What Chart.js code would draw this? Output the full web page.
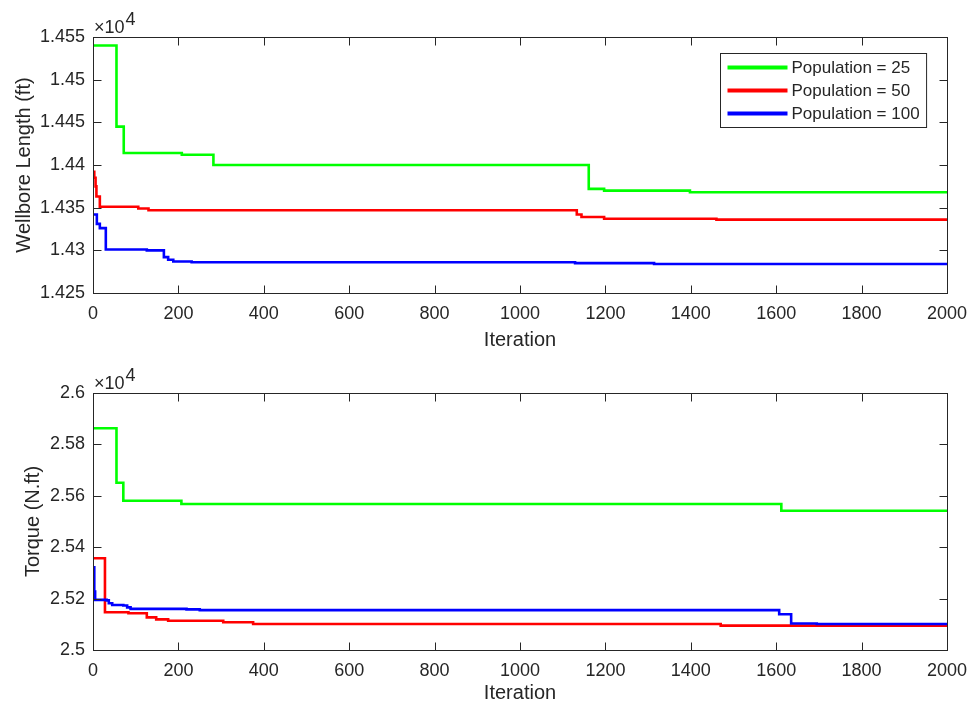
<!DOCTYPE html>
<html><head><meta charset="utf-8">
<script src="https://cdn.jsdelivr.net/npm/chart.js@4.4.1/dist/chart.umd.min.js"></script>
<style>
html,body{margin:0;padding:0;background:#fff;}
#wrap{position:relative;width:969px;height:705px;background:#fff;}
.c{position:absolute;left:0;width:969px;}
canvas{display:block;}
</style></head><body>
<div id="wrap">
<div class="c" style="top:0;height:352px"><canvas id="topChart" width="969" height="352"></canvas></div>
<div class="c" style="top:352px;height:353px"><canvas id="botChart" width="969" height="353"></canvas></div>
</div>
<script>
// ---------- data ----------
const seriesLabels = ['Population = 25', 'Population = 50', 'Population = 100'];
const seriesColors = ['#00ff00', '#ff0000', '#0000ff'];

// Wellbore length (ft) – best value vs iteration (change points)
const len25Iter  = [0, 55, 72, 208, 282, 1161, 1197, 1398, 2000];
const len25      = [14540, 14445, 14414, 14412, 14400, 14372, 14370, 14368, 14368];
const len50Iter  = [0, 3, 6, 8, 16, 106, 130, 1133, 1144, 1197, 1460, 2000];
const len50      = [14392, 14385, 14375, 14363, 14351, 14349, 14347, 14342, 14339, 14337, 14336, 14336];
const len100Iter = [0, 9, 16, 30, 126, 166, 176, 188, 231, 1129, 1314, 2000];
const len100     = [14342, 14331, 14326, 14301, 14300, 14292, 14289, 14287, 14286, 14285, 14284, 14284];

// Torque (N.ft) – best value vs iteration (change points)
const tq25Iter  = [0, 55, 71, 207, 1612, 2000];
const tq25      = [25863, 25651, 25581, 25568, 25542, 25542];
const tq50Iter  = [0, 28, 83, 126, 148, 176, 305, 375, 1470, 2000];
const tq50      = [25357, 25147, 25143, 25127, 25119, 25114, 25108, 25101, 25095, 25095];
const tq100Iter = [0, 3, 5, 32, 37, 45, 71, 80, 88, 219, 250, 1607, 1635, 1695, 2000];
const tq100     = [25322, 25227, 25195, 25193, 25182, 25175, 25173, 25166, 25160, 25158, 25155, 25139, 25103, 25101, 25101];

// axis tick settings
const xTicks = [0, 200, 400, 600, 800, 1000, 1200, 1400, 1600, 1800, 2000];
const lenTicks = [14250, 14300, 14350, 14400, 14450, 14500, 14550];
const tqTicks  = [25000, 25200, 25400, 25600, 25800, 26000];
const exponentText = '\u00d710';
const exponentPower = '4';

// ---------- helpers ----------
const FONT = "'Liberation Sans', Arial, Helvetica, sans-serif";
const TXT = '#262626';
Chart.defaults.font.family = FONT;
Chart.defaults.color = TXT;

function pairs(xs, ys) { return xs.map((x, i) => ({x: x, y: ys[i]})); }

function makeDatasets(sets) {
  return sets.map((s, i) => ({
    label: seriesLabels[i],
    data: pairs(s[0], s[1]),
    borderColor: seriesColors[i],
    backgroundColor: seriesColors[i],
    borderWidth: 2.6,
    pointRadius: 0,
    stepped: 'before',
    borderJoinStyle: 'miter',
    fill: false,
    order: 2 - i
  }));
}

const matlabAxes = {
  id: 'matlabAxes',
  afterDatasetsDraw(chart) {
    const {ctx, chartArea: a, scales: {x, y}} = chart;
    ctx.save();
    ctx.strokeStyle = TXT;
    ctx.lineWidth = 1;
    const L = Math.round(a.left) + 0.5, R = Math.round(a.right) + 0.5;
    const T = Math.round(a.top) + 0.5, B = Math.round(a.bottom) + 0.5;
    ctx.beginPath();
    x.ticks.forEach(t => {
      const px = Math.round(x.getPixelForValue(t.value)) + 0.5;
      ctx.moveTo(px, B); ctx.lineTo(px, B - 8);
      ctx.moveTo(px, T); ctx.lineTo(px, T + 8);
    });
    y.ticks.forEach(t => {
      const py = Math.round(y.getPixelForValue(t.value)) + 0.5;
      ctx.moveTo(L, py); ctx.lineTo(L + 8, py);
      ctx.moveTo(R, py); ctx.lineTo(R - 8, py);
    });
    ctx.stroke();
    ctx.strokeRect(L, T, R - L, B - T);
    // exponent label
    ctx.fillStyle = TXT;
    ctx.font = '18px ' + FONT;
    ctx.textBaseline = 'alphabetic';
    ctx.textAlign = 'left';
    const bx = a.left + 1, by = a.top - 4;
    ctx.fillText(exponentText, bx, by);
    const w = ctx.measureText(exponentText).width;
    ctx.fillText(exponentPower, bx + w + 1, by - 8);
    ctx.restore();
  }
};

const boxLegend = {
  id: 'boxLegend',
  afterDraw(chart) {
    const {ctx, chartArea: a} = chart;
    ctx.save();
    ctx.font = '17px ' + FONT;
    const ds = chart.data.datasets;
    let tw = 0;
    ds.forEach(d => { tw = Math.max(tw, ctx.measureText(d.label).width); });
    const padX = 7, lineLen = 60, gap = 4, rowH = 23, padY = 14;
    const w = padX + lineLen + gap + tw + padX;
    const h = padY * 2 + rowH * (ds.length - 1);
    const right = a.right - 21;
    const left = Math.round(right - w) + 0.5;
    const top = Math.round(a.top + 16) + 0.5;
    ctx.fillStyle = '#ffffff';
    ctx.fillRect(left, top, w, h);
    ctx.strokeStyle = TXT;
    ctx.lineWidth = 1;
    ctx.strokeRect(left, top, w, h);
    ds.forEach((d, i) => {
      const cy = top + padY + i * rowH;
      ctx.strokeStyle = d.borderColor;
      ctx.lineWidth = 4;
      ctx.beginPath();
      ctx.moveTo(left + padX, cy);
      ctx.lineTo(left + padX + lineLen, cy);
      ctx.stroke();
      ctx.fillStyle = TXT;
      ctx.textBaseline = 'middle';
      ctx.textAlign = 'left';
      ctx.fillText(d.label, left + padX + lineLen + gap, cy + 1);
    });
    ctx.restore();
  }
};

function makeChart(id, datasets, yMin, yMax, yStep, yTitle, yTitlePad, topPad, xAxisH, xTitlePad, legend) {
  return new Chart(document.getElementById(id), {
    type: 'line',
    data: { datasets: datasets },
    options: {
      responsive: false,
      animation: false,
      devicePixelRatio: 1,
      layout: { padding: { left: 0, right: 22, top: topPad, bottom: 0 } },
      plugins: { legend: { display: false }, tooltip: { enabled: false } },
      scales: {
        x: {
          type: 'linear', min: xTicks[0], max: xTicks[xTicks.length - 1],
          afterBuildTicks: s => { s.ticks = xTicks.map(v => ({value: v})); },
          grid: { display: false, drawTicks: false },
          border: { display: false },
          ticks: { font: { size: 18 }, color: TXT, padding: 10, maxRotation: 0, autoSkip: false,
                   callback: v => String(v) },
          title: { display: true, text: 'Iteration', font: { size: 20 }, color: TXT,
                   padding: { top: 0, bottom: xTitlePad } },
          afterFit: s => { s.height = xAxisH; s.paddingLeft = 0; s.paddingRight = 0; }
        },
        y: {
          type: 'linear', min: yMin, max: yMax,
          afterBuildTicks: s => { const arr = []; for (let v = yMin; v <= yMax + 1e-9; v += yStep) arr.push({value: v}); s.ticks = arr; },
          grid: { display: false, drawTicks: false },
          border: { display: false },
          ticks: { font: { size: 18 }, color: TXT, padding: 8, autoSkip: false,
                   callback: v => String(+(v / 1e4).toFixed(4)) },
          title: { display: true, text: yTitle, font: { size: 20 }, color: TXT,
                   padding: { top: yTitlePad, bottom: 0 } },
          afterFit: s => { s.width = 93; s.paddingTop = 0; s.paddingBottom = 0; }
        }
      }
    },
    plugins: legend ? [matlabAxes, boxLegend] : [matlabAxes]
  });
}

makeChart('topChart',
  makeDatasets([[len25Iter, len25], [len50Iter, len50], [len100Iter, len100]]),
  lenTicks[0], lenTicks[lenTicks.length - 1], 50,
  'Wellbore Length (ft)', 12, 37, 352 - 293, 0, true);

makeChart('botChart',
  makeDatasets([[tq25Iter, tq25], [tq50Iter, tq50], [tq100Iter, tq100]]),
  tqTicks[0], tqTicks[tqTicks.length - 1], 200,
  'Torque (N.ft)', 21, 41, 353 - 298, 0, false);
</script>
</body></html>
